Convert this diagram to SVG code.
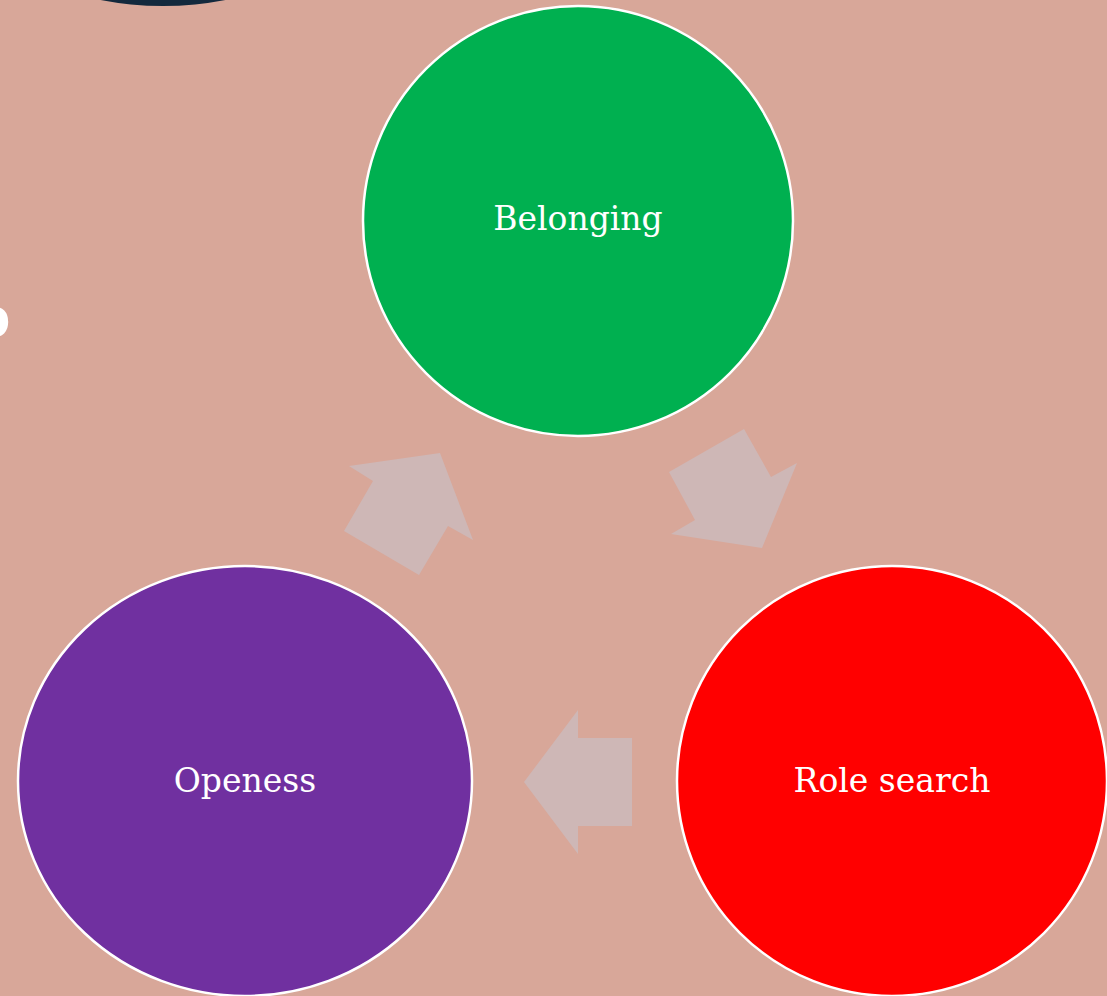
<svg xmlns="http://www.w3.org/2000/svg" width="1107" height="996" viewBox="0 0 1107 996">
<style>
.node{stroke:#ffffff;stroke-width:2.5}
.lbl{font-family:"DejaVu Serif","Liberation Serif",serif;font-size:33px;fill:#ffffff;text-anchor:middle}
.arr{fill:#CEB7B6;stroke:none}
</style>
<rect width="1107" height="996" fill="#D8A799"/>
<circle cx="163" cy="-322" r="328" fill="#13293D"/>
<text x="-25" y="337" font-family="Liberation Sans, sans-serif" font-weight="bold" font-size="58" fill="#ffffff">o</text>
<g id="connectors">
<polygon class="arr" points="349,466 440,453 473,540 448,526 419,575 344,531 373,481"/>
<polygon class="arr" points="669,472 744,429 771,477 797,463 762,548 671,534 695,520"/>
<polygon class="arr" points="524,782 578,710 578,738 632,738 632,826 578,826 578,854"/>
</g>
<g id="belonging">
<circle class="node" cx="578" cy="221" r="215" fill="#00B050"/>
<text class="lbl" x="578" y="230">Belonging</text>
</g>
<g id="role-search">
<circle class="node" cx="892" cy="781" r="215" fill="#FF0000"/>
<text class="lbl" x="892" y="792">Role search</text>
</g>
<g id="openess">
<ellipse class="node" cx="245" cy="781" rx="227" ry="215" fill="#7030A0"/>
<text class="lbl" x="245" y="792">Openess</text>
</g>
</svg>
